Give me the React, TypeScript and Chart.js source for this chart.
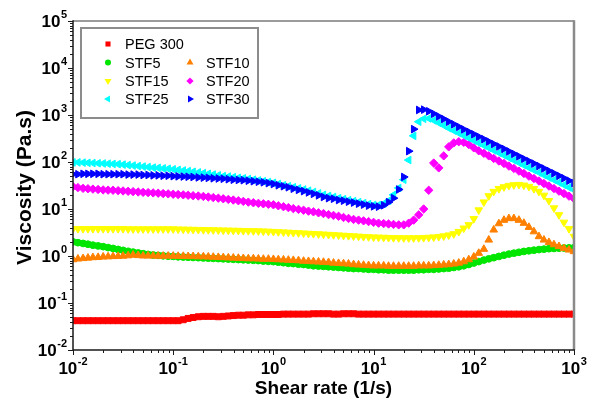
import React, { useEffect, useRef } from 'react';
import { Chart, registerables } from 'chart.js';

Chart.register(...registerables);

// Shear rate (1/s)
const shearRate = [
  0.01, 0.0112, 0.0126, 0.0141, 0.0158, 0.0178, 0.02, 0.0224, 0.0251, 0.0282,
  0.0316, 0.0355, 0.0398, 0.0447, 0.0501, 0.0562, 0.0631, 0.0708, 0.0794, 0.0891,
  0.1, 0.112, 0.126, 0.141, 0.158, 0.178, 0.2, 0.224, 0.251, 0.282,
  0.316, 0.355, 0.398, 0.447, 0.501, 0.562, 0.631, 0.708, 0.794, 0.891,
  1, 1.12, 1.26, 1.41, 1.58, 1.78, 2, 2.24, 2.51, 2.82,
  3.16, 3.55, 3.98, 4.47, 5.01, 5.62, 6.31, 7.08, 7.94, 8.91,
  10, 11.2, 12.6, 14.1, 15.8, 17.8, 20, 22.4, 25.1, 28.2,
  31.6, 35.5, 39.8, 44.7, 50.1, 56.2, 63.1, 70.8, 79.4, 89.1,
  100, 112, 126, 141, 158, 178, 200, 224, 251, 282,
  316, 355, 398, 447, 501, 562, 631, 708, 794, 891,
  1000,
];

// Viscosity (Pa.s)
const peg300 = [
  0.042, 0.042, 0.042, 0.042, 0.042, 0.042, 0.042, 0.042, 0.042, 0.042,
  0.042, 0.042, 0.042, 0.042, 0.042, 0.042, 0.042, 0.042, 0.042, 0.042,
  0.042, 0.042, 0.044, 0.047, 0.049, 0.051, 0.052, 0.052, 0.052, 0.051,
  0.052, 0.053, 0.054, 0.055, 0.055, 0.056, 0.056, 0.057, 0.057, 0.057,
  0.057, 0.057, 0.058, 0.058, 0.058, 0.058, 0.058, 0.058, 0.059, 0.059,
  0.059, 0.059, 0.058, 0.058, 0.059, 0.059, 0.059, 0.058, 0.058, 0.058,
  0.058, 0.058, 0.058, 0.058, 0.058, 0.058, 0.058, 0.058, 0.058, 0.058,
  0.058, 0.058, 0.058, 0.058, 0.058, 0.058, 0.058, 0.058, 0.058, 0.058,
  0.058, 0.058, 0.058, 0.058, 0.058, 0.058, 0.058, 0.058, 0.058, 0.058,
  0.058, 0.058, 0.058, 0.058, 0.058, 0.058, 0.058, 0.058, 0.058, 0.058,
  0.058,
];

const stf5 = [
  2.0, 1.92, 1.85, 1.78, 1.7, 1.64, 1.58, 1.51, 1.45, 1.38,
  1.32, 1.26, 1.21, 1.16, 1.12, 1.08, 1.05, 1.03, 1.01, 0.99,
  0.98, 0.96, 0.95, 0.94, 0.93, 0.92, 0.91, 0.9, 0.89, 0.88,
  0.87, 0.86, 0.85, 0.84, 0.83, 0.82, 0.81, 0.8, 0.78, 0.77,
  0.76, 0.74, 0.72, 0.7, 0.69, 0.67, 0.66, 0.64, 0.62, 0.61,
  0.6, 0.59, 0.58, 0.57, 0.56, 0.55, 0.54, 0.54, 0.53, 0.52,
  0.52, 0.51, 0.51, 0.5, 0.5, 0.5, 0.5, 0.5, 0.5, 0.51,
  0.51, 0.52, 0.52, 0.53, 0.54, 0.55, 0.57, 0.59, 0.62, 0.66,
  0.71, 0.76, 0.82, 0.87, 0.92, 0.98, 1.04, 1.1, 1.15, 1.2,
  1.25, 1.29, 1.33, 1.37, 1.4, 1.43, 1.45, 1.47, 1.48, 1.49,
  1.5,
];

const stf10 = [
  0.84, 0.87, 0.89, 0.91, 0.93, 0.94, 0.96, 0.97, 0.98, 0.99,
  1.0, 1.02, 1.05, 1.03, 1.01, 1.01, 1.01, 1.0, 1.0, 1.0,
  1.0, 0.99, 0.99, 0.98, 0.98, 0.97, 0.97, 0.96, 0.95, 0.94,
  0.93, 0.92, 0.91, 0.9, 0.89, 0.88, 0.88, 0.87, 0.86, 0.86,
  0.85, 0.84, 0.83, 0.82, 0.81, 0.8, 0.78, 0.77, 0.76, 0.75,
  0.74, 0.73, 0.71, 0.7, 0.69, 0.68, 0.66, 0.65, 0.64, 0.63,
  0.62, 0.62, 0.62, 0.61, 0.61, 0.61, 0.61, 0.61, 0.61, 0.62,
  0.62, 0.62, 0.63, 0.64, 0.65, 0.66, 0.68, 0.71, 0.76, 0.84,
  0.96, 1.15, 1.4, 2.2, 3.6, 4.9, 5.8, 6.3, 6.3, 5.8,
  5.0, 4.1, 3.3, 2.6, 2.2, 1.95, 1.75, 1.6, 1.45, 1.35,
  1.25,
];

const stf15 = [
  3.8, 3.8, 3.8, 3.8, 3.8, 3.8, 3.8, 3.8, 3.8, 3.8,
  3.8, 3.75, 3.75, 3.75, 3.75, 3.75, 3.75, 3.75, 3.75, 3.75,
  3.75, 3.72, 3.7, 3.68, 3.66, 3.64, 3.62, 3.6, 3.58, 3.56,
  3.54, 3.52, 3.5, 3.48, 3.46, 3.44, 3.42, 3.4, 3.37, 3.34,
  3.3, 3.26, 3.22, 3.18, 3.14, 3.1, 3.06, 3.02, 2.98, 2.94,
  2.9, 2.86, 2.82, 2.78, 2.74, 2.7, 2.66, 2.62, 2.58, 2.55,
  2.52, 2.5, 2.48, 2.46, 2.44, 2.43, 2.42, 2.42, 2.42, 2.43,
  2.45, 2.48, 2.52, 2.58, 2.66, 2.78, 2.95, 3.3, 3.9, 4.6,
  6.2, 9.5, 14, 19, 23.5, 27, 29.5, 31.5, 32.5, 33,
  32, 30, 27, 23.5, 19.5, 15, 10.5, 7.5, 5.2, 3.8,
  2.6,
];

const stf20 = [
  30, 28.5, 27.5, 27, 26.5, 26, 25.5, 25.2, 25, 24.6,
  24.2, 23.8, 23.4, 23, 22.6, 22.3, 22, 21.7, 21.3, 21,
  20.6, 20.3, 20, 19.6, 19.2, 18.9, 18.5, 18, 17.5, 17,
  16.5, 16, 15.5, 15, 14.5, 14, 13.6, 13.2, 12.9, 12.6,
  12.3, 11.7, 11.2, 10.7, 10.2, 9.8, 9.4, 9.0, 8.7, 8.3,
  8.0, 7.6, 7.3, 7.0, 6.6, 6.3, 6.0, 5.8, 5.6, 5.4,
  5.2, 5.0, 4.9, 4.8, 4.7, 4.6, 4.6, 5.0, 5.8, 7.5,
  10, 25, 95, 75, 135, 210, 255, 270, 262, 235,
  200, 173, 153, 135, 119, 105, 93, 82, 73, 64,
  57, 50, 44.5, 39.4, 34.8, 30.8, 27.2, 24, 21.3, 18.8,
  16.6,
];

const stf25 = [
  98, 98, 97, 96, 95, 94, 93, 92, 91, 90,
  88, 86, 84, 82, 80, 78, 76, 75, 73, 72,
  70, 68, 66, 64, 62, 60, 58, 56, 54, 52,
  50, 49, 47.5, 46, 45, 43.5, 42, 40.5, 39, 37.5,
  36, 34, 32, 30.5, 29, 27.5, 26, 24.5, 23, 21.5,
  20, 19, 18, 17, 16.2, 15.4, 14.7, 14, 13.3, 12.7,
  12.2, 12.2, 13, 15, 20, 28, 42, 110, 360, 720,
  830, 845, 770, 680, 600, 525, 465, 412, 365, 324,
  287, 254, 225, 200, 177, 157, 139, 123, 109, 96.6,
  85.6, 75.9, 67.2, 59.6, 52.8, 46.8, 41.5, 36.7, 32.5, 28.8,
  25.6,
];

const stf30 = [
  55, 55, 56, 56, 56, 56, 55, 55, 55, 55,
  55, 54, 54, 54, 53, 53, 52, 52, 51, 51,
  50, 49.5, 49, 48.5, 48, 47, 46.5, 46, 45, 44.5,
  44, 43, 42, 41.5, 41, 40, 39, 38, 37, 35.5,
  34, 32, 30.5, 29, 27, 25.5, 24, 22.5, 21, 19.5,
  18, 17, 16.5, 15.5, 15, 14.3, 13.7, 13, 12.4, 11.8,
  11.4, 11.2, 12, 14, 17, 26, 48, 170, 500, 1280,
  1300, 1200, 1060, 930, 820, 720, 635, 560, 494, 438,
  389, 345, 306, 272, 241, 214, 190, 168, 149, 132,
  117, 104, 92.5, 82, 72.8, 64.6, 57.3, 50.8, 45.1, 40,
  35.5,
];

const seriesLabels = ['PEG 300', 'STF5', 'STF10', 'STF15', 'STF20', 'STF25', 'STF30'];
const xDecades = [0.01, 0.1, 1, 10, 100, 1000];
const xExponents = ['-2', '-1', '0', '1', '2', '3'];
const yDecades = [0.01, 0.1, 1, 10, 100, 1000, 10000, 100000];
const yExponents = ['-2', '-1', '0', '1', '2', '3', '4', '5'];
const xTitle = 'Shear rate (1/s)';
const yTitle = 'Viscosity (Pa.s)';

const seriesColors = ['#ff0000', '#00e600', '#ff8000', '#ffff00', '#ff00ff', '#00ffff', '#0000ff'];
const seriesMarkers = [
  { style: 'rect', rotation: 0, radius: 4.2, legendRadius: 3.6 },
  { style: 'circle', rotation: 0, radius: 3.4, legendRadius: 3 },
  { style: 'triangle', rotation: 0, radius: 4.4, legendRadius: 4 },
  { style: 'triangle', rotation: 180, radius: 4.4, legendRadius: 4 },
  { style: 'rectRot', rotation: 0, radius: 4.2, legendRadius: 3.6 },
  { style: 'triangle', rotation: 270, radius: 4.4, legendRadius: 4 },
  { style: 'triangle', rotation: 90, radius: 4.4, legendRadius: 4 },
];
// legend layout: [column, row]
const legendSlots = [[0, 0], [0, 1], [1, 1], [0, 2], [1, 2], [0, 3], [1, 3]];

const FONT = '"Liberation Sans", Arial, Helvetica, sans-serif';

function drawMarker(ctx: CanvasRenderingContext2D, style: string, rotationDeg: number, x: number, y: number, r: number, color: string) {
  ctx.save();
  ctx.fillStyle = color;
  ctx.beginPath();
  if (style === 'circle') {
    ctx.arc(x, y, r, 0, Math.PI * 2);
  } else if (style === 'rect') {
    const s = Math.SQRT1_2 * r;
    ctx.rect(x - s, y - s, 2 * s, 2 * s);
  } else if (style === 'rectRot') {
    ctx.moveTo(x, y - r);
    ctx.lineTo(x + r, y);
    ctx.lineTo(x, y + r);
    ctx.lineTo(x - r, y);
    ctx.closePath();
  } else {
    let rad = (rotationDeg * Math.PI) / 180;
    ctx.moveTo(x + Math.sin(rad) * r, y - Math.cos(rad) * r);
    rad += (2 * Math.PI) / 3;
    ctx.lineTo(x + Math.sin(rad) * r, y - Math.cos(rad) * r);
    rad += (2 * Math.PI) / 3;
    ctx.lineTo(x + Math.sin(rad) * r, y - Math.cos(rad) * r);
    ctx.closePath();
  }
  ctx.fill();
  ctx.restore();
}

function drawPower(ctx: CanvasRenderingContext2D, exp: string, x: number, y: number, align: 'right' | 'center') {
  const baseFont = `bold 17px ${FONT}`;
  const supFont = `bold 11px ${FONT}`;
  ctx.font = baseFont;
  const wb = ctx.measureText('10').width;
  ctx.font = supFont;
  const we = ctx.measureText(exp).width;
  const total = wb + we + 0.5;
  const start = align === 'right' ? x - total : x - total / 2;
  ctx.textAlign = 'left';
  ctx.textBaseline = 'middle';
  ctx.font = baseFont;
  ctx.fillText('10', start, y + 1);
  ctx.font = supFont;
  ctx.fillText(exp, start + wb + 0.5, y - 6);
}

const overlayPlugin = {
  id: 'overlay',
  afterDraw(chart: any) {
    const ctx: CanvasRenderingContext2D = chart.ctx;
    const xs = chart.scales.x;
    const ys = chart.scales.y;
    const { left, right, top, bottom } = chart.chartArea;
    ctx.save();

    // frame: top & right (grey)
    ctx.strokeStyle = '#7a7a7a';
    ctx.lineWidth = 1.5;
    ctx.beginPath();
    ctx.moveTo(left, top);
    ctx.lineTo(right, top);
    ctx.stroke();
    ctx.lineWidth = 2.5;
    ctx.strokeStyle = '#8a8a8a';
    ctx.beginPath();
    ctx.moveTo(right, top - 0.75);
    ctx.lineTo(right, bottom);
    ctx.stroke();

    // axes: left & bottom
    ctx.strokeStyle = '#1a1a1a';
    ctx.lineWidth = 1.5;
    ctx.beginPath();
    ctx.moveTo(left, top - 0.75);
    ctx.lineTo(left, bottom);
    ctx.lineTo(right + 1, bottom);
    ctx.stroke();

    // ticks
    ctx.lineWidth = 1;
    ctx.beginPath();
    for (let d = 0; d < yDecades.length; d++) {
      const py = Math.round(ys.getPixelForValue(yDecades[d])) + 0.5;
      ctx.moveTo(left, py);
      ctx.lineTo(left - 5, py);
      if (d < yDecades.length - 1) {
        for (let m = 2; m <= 9; m++) {
          const p = Math.round(ys.getPixelForValue(yDecades[d] * m)) + 0.5;
          ctx.moveTo(left, p);
          ctx.lineTo(left - 3, p);
        }
      }
    }
    for (let d = 0; d < xDecades.length; d++) {
      const px = Math.round(xs.getPixelForValue(xDecades[d])) + 0.5;
      ctx.moveTo(px, bottom);
      ctx.lineTo(px, bottom + 5);
      if (d < xDecades.length - 1) {
        for (let m = 2; m <= 9; m++) {
          const p = Math.round(xs.getPixelForValue(xDecades[d] * m)) + 0.5;
          ctx.moveTo(p, bottom);
          ctx.lineTo(p, bottom + 3);
        }
      }
    }
    ctx.stroke();

    // tick labels
    ctx.fillStyle = '#000';
    for (let d = 0; d < yDecades.length; d++) {
      drawPower(ctx, yExponents[d], left - 6, ys.getPixelForValue(yDecades[d]), 'right');
    }
    for (let d = 0; d < xDecades.length; d++) {
      drawPower(ctx, xExponents[d], xs.getPixelForValue(xDecades[d]), bottom + 18, 'center');
    }

    // axis titles
    ctx.font = `bold 19px ${FONT}`;
    ctx.textAlign = 'center';
    ctx.textBaseline = 'middle';
    ctx.fillText(xTitle, (left + right) / 2, bottom + 39);
    ctx.save();
    ctx.translate(25, (top + bottom) / 2 + 2);
    ctx.rotate(-Math.PI / 2);
    ctx.font = `bold 21px ${FONT}`;
    ctx.fillText(yTitle, 0, 0);
    ctx.restore();

    // legend
    const bx = 81, by = 28, bw = 177, bh = 90;
    ctx.fillStyle = '#ffffff';
    ctx.fillRect(bx, by, bw, bh);
    ctx.strokeStyle = '#8c8c8c';
    ctx.lineWidth = 2;
    ctx.strokeRect(bx, by, bw, bh);
    const colMarkerX = [108, 190];
    const colTextX = [125, 206];
    const rowY = [44, 62.5, 81, 99];
    ctx.font = `14.5px ${FONT}`;
    ctx.textAlign = 'left';
    ctx.textBaseline = 'middle';
    for (let k = 0; k < seriesLabels.length; k++) {
      const [c, r] = legendSlots[k];
      const mk = seriesMarkers[k];
      drawMarker(ctx, mk.style, mk.rotation, colMarkerX[c], rowY[r], mk.legendRadius, seriesColors[k]);
      ctx.fillStyle = '#000';
      ctx.fillText(seriesLabels[k], colTextX[c], rowY[r] + 1);
    }
    ctx.restore();
  },
};

export default function App() {
  const canvasRef = useRef<HTMLCanvasElement>(null);

  useEffect(() => {
    const canvas = canvasRef.current;
    if (!canvas) return;
    const seriesValues = [peg300, stf5, stf10, stf15, stf20, stf25, stf30];
    const datasets = seriesValues.map((vals, k) => ({
      label: seriesLabels[k],
      data: shearRate.map((x, i) => ({ x, y: vals[i] })),
      pointStyle: seriesMarkers[k].style as any,
      pointRotation: seriesMarkers[k].rotation,
      pointRadius: seriesMarkers[k].radius,
      pointHoverRadius: seriesMarkers[k].radius,
      pointBackgroundColor: seriesColors[k],
      pointBorderColor: seriesColors[k],
      pointBorderWidth: 1,
      showLine: false,
      order: seriesLabels.length - 1 - k,
    }));

    const chart = new Chart(canvas, {
      type: 'scatter',
      data: { datasets },
      options: {
        responsive: false,
        maintainAspectRatio: false,
        devicePixelRatio: 1,
        animation: false,
        events: [],
        layout: { padding: { left: 73, right: 18, top: 21, bottom: 53 } },
        plugins: { legend: { display: false }, tooltip: { enabled: false } },
        scales: {
          x: { type: 'logarithmic', min: 0.01, max: 1000, display: false },
          y: { type: 'logarithmic', min: 0.01, max: 100000, display: false },
        },
      },
      plugins: [overlayPlugin],
    } as any);

    return () => chart.destroy();
  }, []);

  return (
    <div style={{ position: 'absolute', left: 0, top: 0, width: 592, height: 403, background: '#fff' }}>
      <canvas ref={canvasRef} width={592} height={403} style={{ width: 592, height: 403, display: 'block' }} />
    </div>
  );
}
